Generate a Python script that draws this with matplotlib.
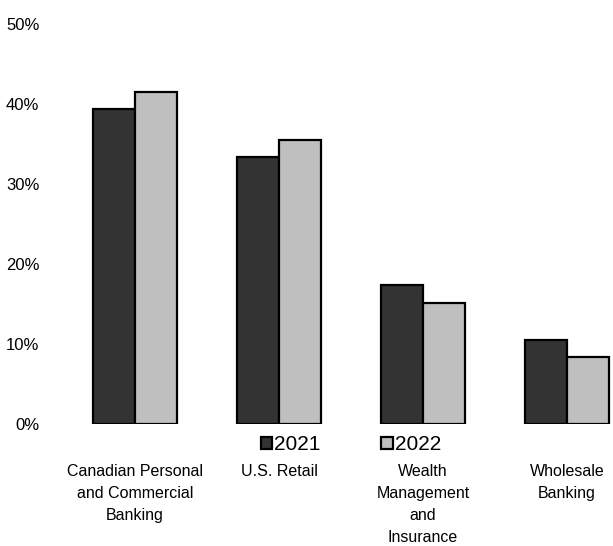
import numpy as np
import matplotlib.pyplot as plt
from matplotlib.ticker import FuncFormatter

plt.rcParams['font.family'] = ['Liberation Sans', 'DejaVu Sans']

# share of net income by segment, %
segments = ['Canadian Personal\nand Commercial\nBanking', 'U.S. Retail',
            'Wealth\nManagement\nand\nInsurance', 'Wholesale\nBanking']
share_2021 = [39.4, 33.4, 17.4, 10.5]
share_2022 = [41.5, 35.5, 15.1, 8.4]

x = np.arange(len(segments))
w = 0.29

fig = plt.figure(figsize=(6.13, 5.46), dpi=100)
ax = fig.add_axes([63/613, 122/546, 550/613, 400/546])

ax.bar(x - w/2, share_2021, w, color='#333333', edgecolor='black',
       linewidth=1.6, label='2021')
ax.bar(x + w/2, share_2022, w, color='#bfbfbf', edgecolor='black',
       linewidth=1.6, label='2022')

ax.set_ylim(0, 50)
ax.set_xlim(-0.5, (613 - 135) / 144)
ax.set_yticks(np.arange(0, 51, 10))
ax.yaxis.set_major_formatter(FuncFormatter(lambda v, p: '%d%%' % v))
ax.set_xticks(x)
ax.set_xticklabels(segments, linespacing=1.58, fontsize=11.5)
ax.tick_params(axis='y', length=0, labelsize=12, pad=17)
ax.tick_params(axis='x', length=0, pad=29)
for s in ax.spines.values():
    s.set_visible(False)

fig.legend(loc='center', bbox_to_anchor=(351/613, 1 - 445/546), ncol=2,
           frameon=False, fontsize=15, handlelength=0.55, handleheight=0.55,
           handletextpad=0.1, columnspacing=2.9)

plt.savefig('out.png', dpi=100)
